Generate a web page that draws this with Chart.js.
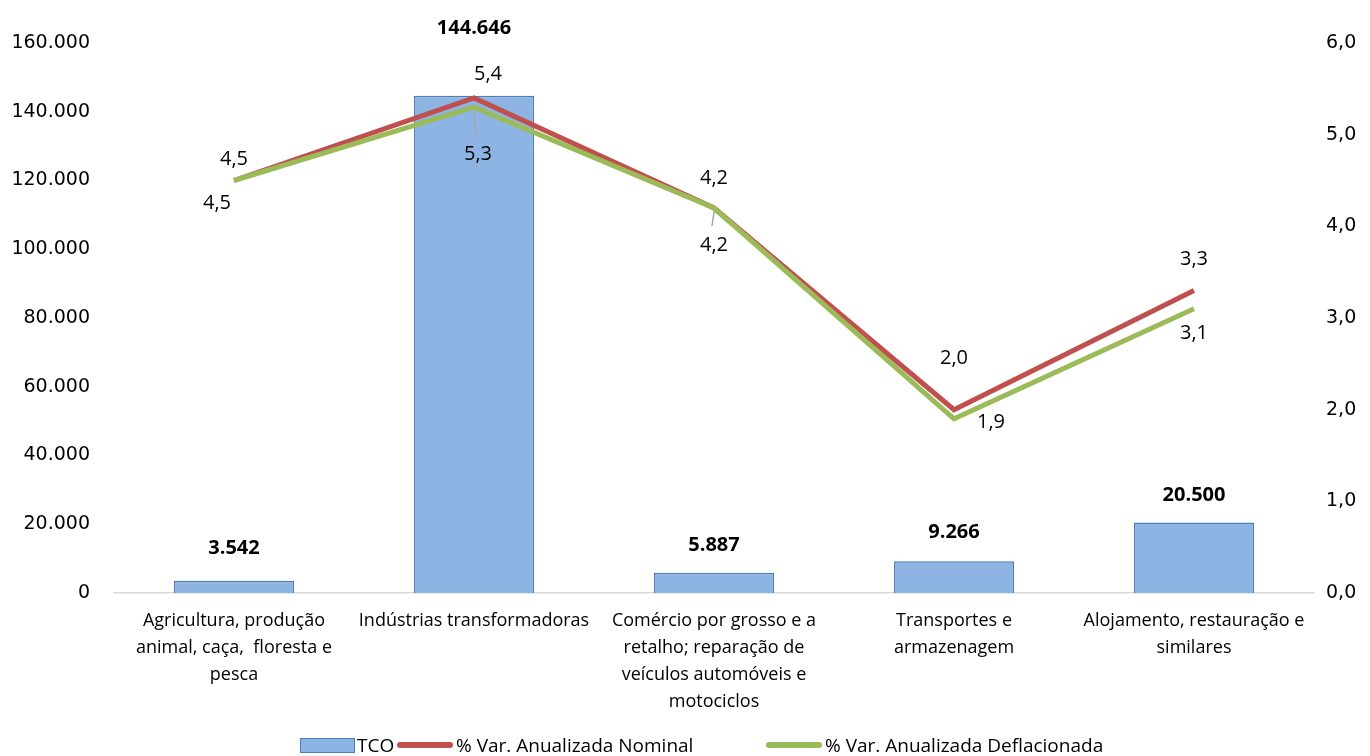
<!DOCTYPE html>
<html>
<head>
<meta charset="utf-8">
<script src="https://cdn.jsdelivr.net/npm/chart.js@4"></script>
<style>
  body { margin: 0; background: #fff; }
  #wrap { position: relative; width: 1370px; height: 756px; }
  .item { position: absolute; top: 733px; height: 24px; display: flex; align-items: center;
    font-family: "Open Sans", sans-serif; font-size: 19px; color: #000; white-space: nowrap; }
  .box { width: 53px; height: 13px; background: #8DB4E2; border: 1px solid #4A7EBB; margin-right: 2px; }
  .ln { width: 56px; height: 6px; border-radius: 3px; margin-right: 3px; }
</style>
</head>
<body>
<div id="wrap">
  <canvas id="chart" width="1370" height="756"></canvas>
  <div class="item" style="left:300px"><div class="box"></div>TCO</div>
  <div class="item" style="left:397px"><div class="ln" style="background:#C0504D"></div>% Var. Anualizada Nominal</div>
  <div class="item" style="left:766px"><div class="ln" style="background:#9BBB59"></div>% Var. Anualizada Deflacionada</div>
</div>
<script>
let categories = [
  ['Agricultura, produção', 'animal, caça,  floresta e', 'pesca'],
  'Indústrias transformadoras',
  ['Comércio por grosso e a', 'retalho; reparação de', 'veículos automóveis e', 'motociclos'],
  ['Transportes e', 'armazenagem'],
  ['Alojamento, restauração e', 'similares']
]
let tco = [3542, 144646, 5887, 9266, 20500]
let varNominal = [4.5, 5.4, 4.2, 2.0, 3.3]
let varDeflacionada = [4.5, 5.3, 4.2, 1.9, 3.1]

// label offsets (px) relative to each mark
let tcoLabelDy = [-33, -67, -27, -29, -27]
let nominalOffsets = [[0, -21], [14, -24], [0, -30], [0, -51], [0, -31]]
let deflOffsets = [[-17, 23], [4, 47], [0, 37], [37, 3], [0, 24]]
let deflLeader = [false, true, true, false, false]

function fmtThousands(v){
    return Math.round(v).toString().replace(/\B(?=(\d{3})+(?!\d))/g, '.')
}
function fmtDec(v){
    return v.toFixed(1).replace('.', ',')
}

const labelsPlugin = {
    id: 'labelsPlugin',
    afterDatasetsDraw(chart){
        const ctx = chart.ctx
        ctx.save()
        ctx.textAlign = 'center'
        ctx.textBaseline = 'middle'
        ctx.fillStyle = '#000'

        let barMeta = chart.getDatasetMeta(2)
        ctx.font = 'bold 20px "Open Sans", sans-serif'
        barMeta.data.forEach((el, i) => {
            ctx.fillText(fmtThousands(tco[i]), el.x, el.y + tcoLabelDy[i])
        })

        ctx.font = '20px "Open Sans", sans-serif'
        let nomMeta = chart.getDatasetMeta(1)
        nomMeta.data.forEach((el, i) => {
            ctx.fillText(fmtDec(varNominal[i]), el.x + nominalOffsets[i][0], el.y + nominalOffsets[i][1])
        })
        let defMeta = chart.getDatasetMeta(0)
        defMeta.data.forEach((el, i) => {
            let lx = el.x + deflOffsets[i][0]
            let ly = el.y + deflOffsets[i][1]
            if(deflLeader[i]){
                ctx.strokeStyle = '#A6A6A6'
                ctx.lineWidth = 1.5
                ctx.beginPath()
                ctx.moveTo(el.x, el.y + 4)
                ctx.lineTo(lx - 2, ly - 19)
                ctx.stroke()
            }
            ctx.fillText(fmtDec(varDeflacionada[i]), lx, ly)
        })
        ctx.restore()
    }
}

const config = {
    type: 'bar',
    data: {
        labels: categories,
        datasets: [
            {
                type: 'line',
                label: '% Var. Anualizada Deflacionada',
                data: varDeflacionada,
                borderColor: '#9BBB59',
                backgroundColor: '#9BBB59',
                borderWidth: 5,
                pointRadius: 0,
                tension: 0,
                yAxisID: 'y1',
                order: 0
            },
            {
                type: 'line',
                label: '% Var. Anualizada Nominal',
                data: varNominal,
                borderColor: '#C0504D',
                backgroundColor: '#C0504D',
                borderWidth: 5,
                pointRadius: 0,
                tension: 0,
                yAxisID: 'y1',
                order: 1
            },
            {
                label: 'TCO',
                data: tco,
                backgroundColor: '#8DB4E2',
                borderColor: '#4A7EBB',
                borderWidth: 1.5,
                categoryPercentage: 0.5,
                barPercentage: 1,
                yAxisID: 'y',
                order: 2
            }
        ]
    },
    options: {
        responsive: false,
        animation: false,
        layout: { padding: { top: 43, bottom: 0, left: 0, right: 0 } },
        plugins: {
            legend: { display: false },
            tooltip: { enabled: false }
        },
        scales: {
            x: {
                grid: { display: false },
                border: { color: '#D9D9D9', width: 1.5 },
                ticks: {
                    color: '#000',
                    font: { family: 'Open Sans', size: 18, lineHeight: 1.5 },
                    padding: 6,
                    maxRotation: 0,
                    autoSkip: false
                },
                afterFit(scale){ scale.height = 163 }
            },
            y: {
                position: 'left',
                min: 0,
                max: 160000,
                grid: { display: false, drawTicks: false },
                border: { display: false },
                ticks: {
                    stepSize: 20000,
                    color: '#000',
                    padding: 24,
                    font: { family: 'DejaVu Sans', size: 19 },
                    callback: v => fmtThousands(v)
                },
                afterFit(scale){ scale.width = 114 }
            },
            y1: {
                position: 'right',
                min: 0,
                max: 6,
                grid: { display: false, drawTicks: false },
                border: { display: false },
                ticks: {
                    stepSize: 1,
                    color: '#000',
                    padding: 12,
                    font: { family: 'DejaVu Sans', size: 19 },
                    callback: v => fmtDec(v)
                },
                afterFit(scale){ scale.width = 56 }
            }
        }
    },
    plugins: [labelsPlugin]
}

new Chart(document.getElementById('chart'), config)
</script>
</body>
</html>
